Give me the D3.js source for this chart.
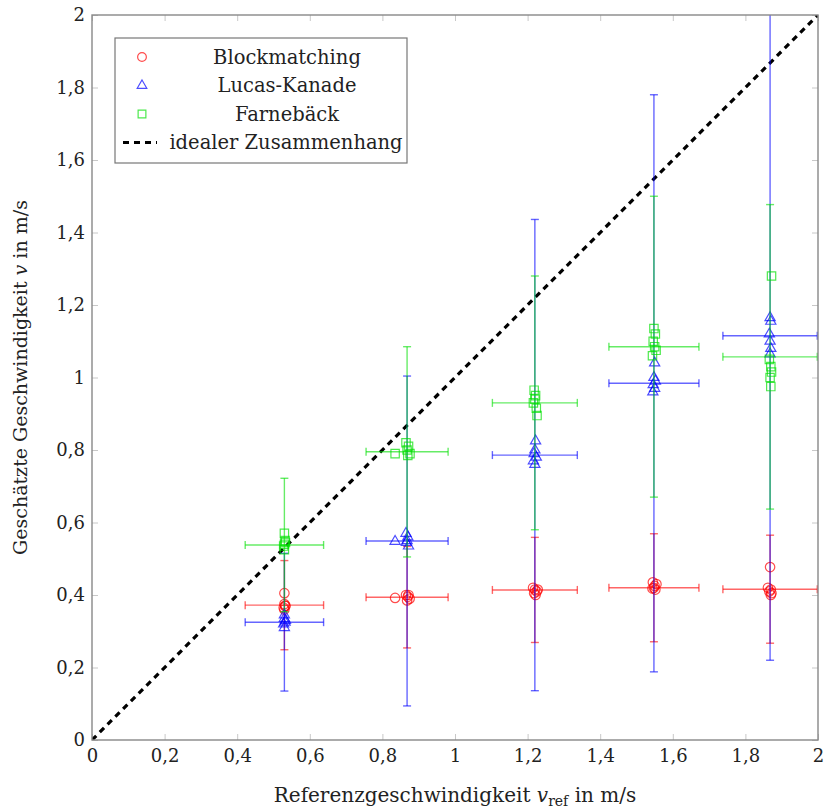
<!DOCTYPE html>
<html>
<head>
<meta charset="utf-8">
<script src="https://cdn.jsdelivr.net/npm/d3@7"></script>
<style>
body { margin: 0; background: #fff; }
text { font-family: "DejaVu Serif", "Liberation Serif", serif; }
</style>
</head>
<body>
<script>
// group reference speeds and their x error
let refSpeeds = [0.53, 0.868, 1.22, 1.548, 1.868];
let refErr = [0.108, 0.113, 0.117, 0.124, 0.13];

// mean estimates and std deviation per method
let bmMean = [0.372, 0.394, 0.414, 0.42, 0.416];
let bmErr = [0.123, 0.14, 0.145, 0.149, 0.149];
let lkMean = [0.325, 0.549, 0.786, 0.984, 1.115];
let lkErr = [0.19, 0.455, 0.65, 0.796, 0.895];
let fbMean = [0.538, 0.795, 0.93, 1.085, 1.057];
let fbErr = [0.184, 0.29, 0.35, 0.415, 0.42];

// single measurements [x, y]
let bmPoints = [
	[0.53,0.405],[0.53,0.375],[0.532,0.37],[0.528,0.365],[0.53,0.36],[0.533,0.37],
	[0.835,0.392],[0.865,0.40],[0.87,0.395],[0.875,0.39],[0.868,0.385],[0.872,0.40],
	[1.215,0.42],[1.22,0.415],[1.225,0.41],[1.218,0.405],[1.222,0.40],[1.228,0.415],
	[1.545,0.435],[1.55,0.425],[1.548,0.42],[1.552,0.415],[1.544,0.418],[1.555,0.43],
	[1.868,0.477],[1.862,0.42],[1.87,0.415],[1.866,0.41],[1.872,0.405],[1.87,0.40]
];
let lkPoints = [
	[0.53,0.345],[0.53,0.335],[0.532,0.325],[0.528,0.32],[0.53,0.31],[0.533,0.33],
	[0.835,0.548],[0.865,0.57],[0.87,0.56],[0.868,0.55],[0.872,0.535],[0.866,0.545],
	[1.222,0.825],[1.22,0.80],[1.218,0.79],[1.224,0.78],[1.216,0.77],[1.22,0.76],
	[1.55,1.04],[1.548,1.0],[1.552,0.99],[1.546,0.98],[1.55,0.97],[1.545,0.96],
	[1.868,1.165],[1.87,1.155],[1.866,1.12],[1.868,1.10],[1.87,1.08],[1.868,1.065]
];
let fbPoints = [
	[0.53,0.57],[0.532,0.55],[0.53,0.54],[0.528,0.535],[0.53,0.525],[0.533,0.545],
	[0.835,0.79],[0.865,0.82],[0.872,0.81],[0.868,0.80],[0.87,0.785],[0.876,0.79],
	[1.218,0.965],[1.222,0.95],[1.22,0.94],[1.216,0.93],[1.224,0.915],[1.226,0.895],
	[1.548,1.135],[1.552,1.12],[1.546,1.10],[1.55,1.085],[1.554,1.075],[1.544,1.06],
	[1.872,1.28],[1.866,1.05],[1.87,1.03],[1.872,1.015],[1.868,1.0],[1.87,0.975]
];

let xTicks = [0, 0.2, 0.4, 0.6, 0.8, 1, 1.2, 1.4, 1.6, 1.8, 2];
let yTicks = [0, 0.2, 0.4, 0.6, 0.8, 1, 1.2, 1.4, 1.6, 1.8, 2];
let legendNames = ["Blockmatching", "Lucas-Kanade", "Farnebäck", "idealer Zusammenhang"];

window.onload = function(){(function(){
let W = 827, H = 812;
let m = { top: 15, left: 92, bottom: 72, right: 9 },
    w = W - m.left - m.right,
    h = H - m.top - m.bottom;

let svg = d3.select("body").append("svg")
	.attr("width", W)
	.attr("height", H);

svg.append("defs").append("clipPath")
	.attr("id", "clip")
	.append("rect")
	.attr("width", w)
	.attr("height", h);

let g = svg.append("g")
	.attr("transform", "translate(" + m.left + "," + m.top + ")");

let x = d3.scaleLinear().domain([0, 2]).range([0, w]);
let y = d3.scaleLinear().domain([0, 2]).range([h, 0]);
let fmt = function(d){ return String(d).replace(".", ","); };

// inner ticks on all four sides
let tickCol = "#c8c8c8";
g.append("g").attr("transform", "translate(0," + h + ")")
	.call(d3.axisBottom(x).tickValues(xTicks).tickSize(-6).tickPadding(9).tickFormat(fmt));
g.append("g")
	.call(d3.axisLeft(y).tickValues(yTicks).tickSize(-6).tickPadding(7).tickFormat(fmt));
g.append("g")
	.call(d3.axisTop(x).tickValues(xTicks).tickSize(-6).tickFormat(""));
g.append("g").attr("transform", "translate(" + w + ",0)")
	.call(d3.axisRight(y).tickValues(yTicks).tickSize(-6).tickFormat(""));
g.selectAll(".domain").remove();
g.selectAll(".tick line").attr("stroke", tickCol).attr("stroke-width", 1);
g.selectAll(".tick text")
	.attr("fill", "#222")
	.style("font-family", "'DejaVu Serif', serif")
	.style("font-size", "18px");

let plot = g.append("g").attr("clip-path", "url(#clip)");

// ideal line
plot.append("line")
	.attr("x1", x(0)).attr("y1", y(0))
	.attr("x2", x(2)).attr("y2", y(2))
	.attr("stroke", "#000")
	.attr("stroke-width", 3.2)
	.attr("stroke-dasharray", "6,5");

let series = [
	{ mean: bmMean, err: bmErr, pts: bmPoints, col: "#ff0000", sym: d3.symbolCircle },
	{ mean: lkMean, err: lkErr, pts: lkPoints, col: "#0000ff", sym: d3.symbolTriangle },
	{ mean: fbMean, err: fbErr, pts: fbPoints, col: "#00e000", sym: d3.symbolSquare }
];

let cap = 4;
series.forEach(function(s){
	let sg = plot.append("g");
	let bars = sg.selectAll(".bar").data(refSpeeds).enter().append("g")
		.attr("stroke", s.col)
		.attr("stroke-opacity", 0.6)
		.attr("stroke-width", 1.4)
		.attr("fill", "none");
	// vertical
	bars.append("line")
		.attr("x1", function(d){ return x(d); }).attr("x2", function(d){ return x(d); })
		.attr("y1", function(d,i){ return y(s.mean[i] - s.err[i]); })
		.attr("y2", function(d,i){ return y(s.mean[i] + s.err[i]); });
	[-1, 1].forEach(function(k){
		bars.append("line")
			.attr("x1", function(d){ return x(d) - cap; }).attr("x2", function(d){ return x(d) + cap; })
			.attr("y1", function(d,i){ return y(s.mean[i] + k*s.err[i]); })
			.attr("y2", function(d,i){ return y(s.mean[i] + k*s.err[i]); });
		bars.append("line")
			.attr("x1", function(d,i){ return x(d + k*refErr[i]); })
			.attr("x2", function(d,i){ return x(d + k*refErr[i]); })
			.attr("y1", function(d,i){ return y(s.mean[i]) - cap; })
			.attr("y2", function(d,i){ return y(s.mean[i]) + cap; });
	});
	// horizontal
	bars.append("line")
		.attr("x1", function(d,i){ return x(d - refErr[i]); })
		.attr("x2", function(d,i){ return x(d + refErr[i]); })
		.attr("y1", function(d,i){ return y(s.mean[i]); })
		.attr("y2", function(d,i){ return y(s.mean[i]); });

	sg.selectAll(".pt").data(s.pts).enter().append("path")
		.attr("d", d3.symbol().type(s.sym).size(s.sym === d3.symbolTriangle ? 45 : 70))
		.attr("transform", function(d){ return "translate(" + x(d[0]) + "," + y(d[1]) + ")"; })
		.attr("fill", "none")
		.attr("stroke", s.col)
		.attr("stroke-opacity", 0.7)
		.attr("stroke-width", 1.2);
});

// frame
g.append("rect")
	.attr("width", w).attr("height", h)
	.attr("fill", "none")
	.attr("stroke", "#888")
	.attr("stroke-width", 1.4);

// legend
let lg = g.append("g").attr("transform", "translate(" + (115 - m.left) + "," + (38 - m.top) + ")");
lg.append("rect")
	.attr("width", 292).attr("height", 125)
	.attr("fill", "#fff")
	.attr("stroke", "#777")
	.attr("stroke-width", 1.2);
legendNames.forEach(function(name, i){
	let ry = 19 + i * 28.5;
	if (i < 3) {
		lg.append("path")
			.attr("d", d3.symbol().type(series[i].sym).size(i === 1 ? 40 : 60))
			.attr("transform", "translate(27," + ry + ")")
			.attr("fill", "none")
			.attr("stroke", series[i].col)
			.attr("stroke-opacity", 0.7)
			.attr("stroke-width", 1.2);
	} else {
		lg.append("line")
			.attr("x1", 8).attr("x2", 42)
			.attr("y1", ry).attr("y2", ry)
			.attr("stroke", "#000")
			.attr("stroke-width", 3.2)
			.attr("stroke-dasharray", "6,5");
	}
	lg.append("text")
		.attr("x", i < 3 ? 172 : 171)
		.attr("y", ry)
		.attr("dy", "0.35em")
		.attr("text-anchor", "middle")
		.attr("fill", "#222")
		.style("font-size", "19.5px")
		.text(name);
});

// axis labels
let xl = svg.append("text")
	.attr("x", m.left + w / 2)
	.attr("y", 802)
	.attr("text-anchor", "middle")
	.attr("fill", "#222")
	.style("font-size", "20px");
xl.append("tspan").text("Referenzgeschwindigkeit ");
xl.append("tspan").style("font-style", "italic").text("v");
xl.append("tspan").attr("dy", 4).style("font-size", "14px").text("ref");
xl.append("tspan").attr("dy", -4).text(" in m/s");

let yl = svg.append("text")
	.attr("transform", "translate(27," + (m.top + h / 2) + ") rotate(-90)")
	.attr("text-anchor", "middle")
	.attr("fill", "#222")
	.style("font-size", "19px");
yl.append("tspan").text("Geschätzte Geschwindigkeit ");
yl.append("tspan").style("font-style", "italic").text("v");
yl.append("tspan").text(" in m/s");

})()}
</script>
</body>
</html>
